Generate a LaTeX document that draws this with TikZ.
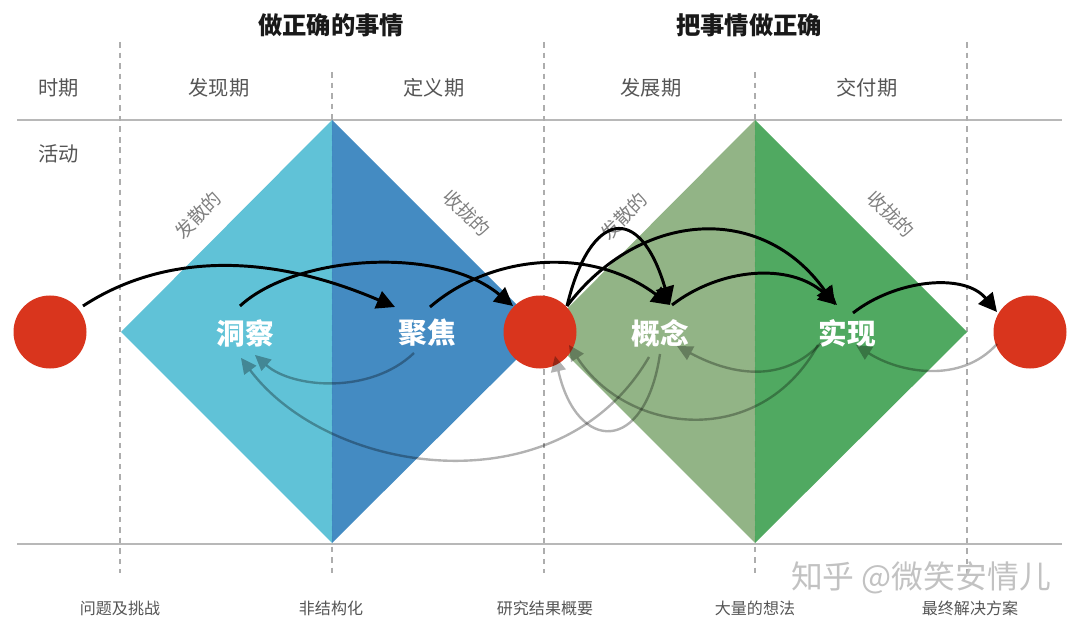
\documentclass[tikz,border=0pt]{standalone}
\usepackage{fontspec}
\setmainfont{Noto Sans CJK SC}
\usetikzlibrary{arrows.meta, calc}
\definecolor{seacyan}{RGB}{90, 192, 213}
\definecolor{deepblue}{RGB}{60, 134, 192}
\definecolor{palegreen}{RGB}{142, 177, 129}
\definecolor{leafgreen}{RGB}{73, 166, 91}
\definecolor{dotred}{RGB}{217, 53, 29}
\definecolor{inkgray}{RGB}{85, 85, 85}
\tikzset{
  headtext/.style={font=\fontsize{17.3}{20}\selectfont\bfseries, text=black!90},
  phasetext/.style={font=\fontsize{14.4}{17}\selectfont, text=inkgray},
  sidetext/.style={font=\fontsize{13.4}{16}\selectfont, text=black!50},
  bottomtext/.style={font=\fontsize{11.4}{14}\selectfont, text=inkgray},
  stagetext/.style={font=\fontsize{20.4}{24}\selectfont\bfseries, text=white},
  dot/.style={circle, fill=dotred, minimum size=73*0.025cm, inner sep=0pt},
  ruleline/.style={draw=black!28, line width=0.9pt},
  gridline/.style={draw=black!32, line width=0.8pt, dash pattern=on 4pt off 3.5pt},
  goflow/.style={draw=black, line width=2.1pt, -{Triangle[length=13pt, width=13pt]}},
  backflow/.style={draw=black, opacity=0.3, line width=1.7pt, -{Triangle[length=11pt, width=11pt, line width=0pt]}}
}
\begin{document}
\begin{tikzpicture}[x=0.025cm, y=-0.025cm]
  \useasboundingbox (0, 0) rectangle (1080, 623);

  % Headings
  \node[headtext] (headleft) at (331, 25) {做正确的事情};
  \node[headtext] (headright) at (749, 25) {把事情做正确};

  % Row names and phases
  \node[phasetext] (rowtime) at (59, 88) {时期};
  \node[phasetext] (rowwork) at (59, 154) {活动};
  \node[phasetext] (discover) at (219, 88) {发现期};
  \node[phasetext] (define) at (434, 88) {定义期};
  \node[phasetext] (develop) at (651, 88) {发展期};
  \node[phasetext] (deliver) at (867, 88) {交付期};

  % Grid
  \draw[ruleline] (17, 120) -- (1062, 120);
  \draw[ruleline] (17, 544) -- (1062, 544);
  \foreach \x/\top in {120/42, 332/72, 544/42, 755/72, 967/42} {
    \draw[gridline] (\x, \top) -- (\x, 573);
  }

  % Diamonds
  \fill[seacyan, fill opacity=0.96] (121, 332) -- (332, 120) -- (332, 543) -- cycle;
  \fill[deepblue, fill opacity=0.96] (332, 120) -- (544, 332) -- (332, 543) -- cycle;
  \fill[palegreen, fill opacity=0.96] (544, 332) -- (755, 120) -- (755, 543) -- cycle;
  \fill[leafgreen, fill opacity=0.96] (755, 120) -- (967, 332) -- (755, 543) -- cycle;

  % Side labels
  \node[sidetext, rotate=45] (spreadleft) at (198, 215) {发散的};
  \node[sidetext, rotate=-45] (closeleft) at (467, 213) {收拢的};
  \node[sidetext, rotate=45] (spreadright) at (624, 216) {发散的};
  \node[sidetext, rotate=-45] (closeright) at (891, 214) {收拢的};

  % Dots
  \node[dot] (start) at (50, 332) {};
  \node[dot] (middle) at (540, 332) {};
  \node[dot] (finish) at (1030, 332) {};

  % Stages
  \node[stagetext] (insight) at (245, 333) {洞察};
  \node[stagetext] (focus) at (427, 333) {聚焦};
  \node[stagetext] (concept) at (660, 333) {概念};
  \node[stagetext] (deliverable) at (847, 333) {实现};

  % Forward arrows
  \draw[goflow] ($(start)+(33, -26)$) .. controls (150, 262) and (250, 245) .. ($(focus)+(-32, -26)$);
  \draw[goflow] ($(insight)+(-5, -27)$) .. controls (295, 255) and (440, 245) .. ($(middle)+(-27, -26)$);
  \draw[goflow] ($(focus)+(3, -26)$) .. controls (490, 255) and (590, 245) .. ($(concept)+(10, -28)$);
  \draw[goflow] ($(middle)+(27, -26)$) .. controls (590, 210) and (640, 202) .. ($(concept)+(10, -28)$);
  \draw[goflow] ($(middle)+(27, -26)$) .. controls (640, 210) and (762, 202) .. ($(deliverable)+(-12, -28)$);
  \draw[goflow] ($(concept)+(12, -28)$) .. controls (720, 268) and (790, 262) .. ($(deliverable)+(-10, -28)$);
  \draw[goflow] ($(deliverable)+(6, -20)$) .. controls (895, 280) and (964, 272) .. ($(finish)+(-33, -20)$);

  % Return arrows
  \draw[backflow] ($(focus)+(-13, 20)$) .. controls (370, 395) and (292, 388) .. ($(insight)+(10, 22)$);
  \draw[backflow] ($(concept)+(-11, 24)$) .. controls (560, 510) and (330, 476) .. ($(insight)+(-4, 25)$);
  \draw[backflow] ($(concept)+(0, 21)$) .. controls (645, 455) and (577, 453) .. ($(middle)+(15, 24)$);
  \draw[backflow] ($(deliverable)+(-26, 10)$) .. controls (785, 382) and (735, 377) .. ($(concept)+(17, 13)$);
  \draw[backflow] ($(deliverable)+(-29, 12)$) .. controls (760, 450) and (628, 435) .. ($(middle)+(29, 13)$);
  \draw[backflow] ($(finish)+(-33, 12)$) .. controls (960, 385) and (898, 372) .. ($(deliverable)+(9, 12)$);

  % Bottom labels
  \node[bottomtext] (problem) at (120, 608) {问题及挑战};
  \node[bottomtext] (unformed) at (331, 608) {非结构化};
  \node[bottomtext] (summary) at (545, 608) {研究结果概要};
  \node[bottomtext] (ideas) at (755, 608) {大量的想法};
  \node[bottomtext] (solution) at (970, 608) {最终解决方案};

  % Watermark
  \node[font=\fontsize{22.6}{26}\selectfont, text=black!24] (mark) at (921, 578) {知乎 @微笑安情儿};
\end{tikzpicture}
\end{document}
